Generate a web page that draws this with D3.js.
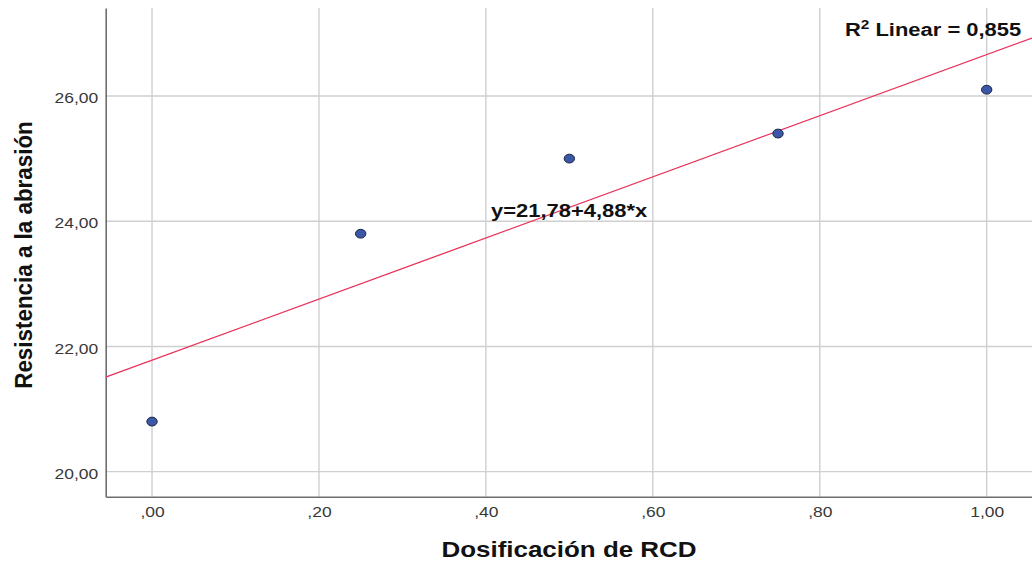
<!DOCTYPE html>
<html>
<head>
<meta charset="utf-8">
<script src="https://cdn.jsdelivr.net/npm/d3@7"></script>
<style>
  html, body { margin: 0; padding: 0; background: #fff; }
  svg { display: block; }
</style>
</head>
<body>
<svg id="chart" width="1032" height="566"></svg>
<script>
// Observations: RCD dosage vs. abrasion resistance
const dosage = [0.00, 0.25, 0.50, 0.75, 1.00];
const resistance = [20.8, 23.8, 25.0, 25.4, 26.1];

// Linear fit reported on the chart
const fitIntercept = 21.78;
const fitSlope = 4.88;
const rSquared = "0,855";

const xTicks = [0, 0.2, 0.4, 0.6, 0.8, 1.0];
const xTickLabels = [",00", ",20", ",40", ",60", ",80", "1,00"];
const yTicks = [20, 22, 24, 26];
const yTickLabels = ["20,00", "22,00", "24,00", "26,00"];

const svg = d3.select("#chart");
const plotLeft = 105.7, plotRight = 1032, plotTop = 8, plotBottom = 496.7;
const stretch = 1.18;   // horizontal widening applied to all text
const sansFont = "'Liberation Sans', Arial, sans-serif";

const x = d3.scaleLinear().domain([-0.0555, 1.0543]).range([plotLeft, plotRight]);
const y = d3.scaleLinear().domain([19.6, 27.405]).range([plotBottom, plotTop]);

// Grid lines
const grid = svg.append("g");
grid.selectAll("line.v").data(xTicks).join("line").attr("class", "v")
  .attr("x1", d => x(d)).attr("x2", d => x(d))
  .attr("y1", plotTop).attr("y2", plotBottom)
  .attr("stroke", "#cfcfcf").attr("stroke-width", 1.4);
grid.selectAll("line.h").data(yTicks).join("line").attr("class", "h")
  .attr("x1", plotLeft).attr("x2", plotRight)
  .attr("y1", d => y(d)).attr("y2", d => y(d))
  .attr("stroke", "#cfcfcf").attr("stroke-width", 1.4);

// Axes (labels only, no tick marks)
const xAxis = d3.axisBottom(x).tickValues(xTicks)
  .tickFormat((d, i) => xTickLabels[i]).tickSize(0).tickPadding(9.5);
const yAxis = d3.axisLeft(y).tickValues(yTicks)
  .tickFormat((d, i) => yTickLabels[i]).tickSize(0).tickPadding(6.3);

const gx = svg.append("g").attr("transform", `translate(0,${plotBottom})`).call(xAxis);
const gy = svg.append("g").attr("transform", `translate(${plotLeft},0)`).call(yAxis);
[gx, gy].forEach(g => {
  g.select(".domain").attr("stroke", "#6e6e6e").attr("stroke-width", 1.6);
  g.selectAll("text").attr("font-family", sansFont)
    .attr("font-size", 14.8).attr("fill", "#383838")
    .attr("transform", `scale(${stretch},1)`);
});
gy.selectAll("text").attr("dy", "0.45em");

// Fit line across the full plot width
const [x0, x1] = x.domain();
svg.append("line")
  .attr("x1", x(x0)).attr("y1", y(fitIntercept + fitSlope * x0))
  .attr("x2", x(x1)).attr("y2", y(fitIntercept + fitSlope * x1))
  .attr("stroke", "#e8315a").attr("stroke-width", 1.3);

// Data points
svg.selectAll("ellipse.pt").data(dosage).join("ellipse").attr("class", "pt")
  .attr("cx", d => x(d))
  .attr("cy", (d, i) => y(resistance[i]))
  .attr("rx", 5.2).attr("ry", 4.4)
  .attr("fill", "#3a57a8").attr("stroke", "#1a2340").attr("stroke-width", 1);

// Annotations
const r2 = svg.append("text")
  .attr("transform", `translate(845,36) scale(${stretch},1)`)
  .attr("font-family", sansFont).attr("font-size", 18.6).attr("font-weight", "bold")
  .attr("fill", "#111");
r2.append("tspan").text("R");
r2.append("tspan").attr("font-size", 13).attr("dy", -7.5).text("2");
r2.append("tspan").attr("dy", 7.5).text(` Linear = ${rSquared}`);

svg.append("text")
  .attr("transform", `translate(491,216.5) scale(${stretch},1)`)
  .attr("font-family", sansFont).attr("font-size", 18.6).attr("font-weight", "bold")
  .attr("fill", "#111")
  .text(`y=${String(fitIntercept).replace(".", ",")}+${String(fitSlope).replace(".", ",")}*x`);

// Axis titles
svg.append("text")
  .attr("transform", `translate(569,556.7) scale(${stretch},1)`)
  .attr("text-anchor", "middle")
  .attr("font-family", sansFont).attr("font-size", 22).attr("font-weight", "bold")
  .attr("fill", "#111")
  .text("Dosificación de RCD");

svg.append("text")
  .attr("transform", "translate(31.5,255) scale(1.1,1) rotate(-90)")
  .attr("text-anchor", "middle")
  .attr("font-family", sansFont).attr("font-size", 22.4).attr("font-weight", "bold")
  .attr("fill", "#111")
  .text("Resistencia a la abrasión");
</script>
</body>
</html>
